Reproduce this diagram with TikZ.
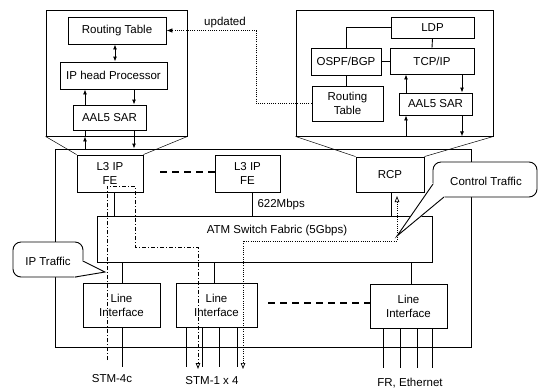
\documentclass[tikz,border=0pt]{standalone}
\usepackage{fontspec}
\setmainfont{Liberation Sans}
\usetikzlibrary{arrows.meta}
\begin{document}
\begin{tikzpicture}[x=1pt,y=-1pt,
  every node/.style={font=\fontsize{11.5}{14}\selectfont},
  blk/.style={draw, line width=0.9pt, inner sep=0pt, align=center, fill=white},
  wh/.style 2 args={minimum width=#1pt, minimum height=#2pt},
  ln/.style={line width=0.9pt},
  thinln/.style={line width=0.5pt},
  arr/.style={line width=0.9pt, -{Latex[length=5pt,width=4pt]}},
  darr/.style={line width=0.9pt, {Latex[length=5pt,width=4pt]}-{Latex[length=5pt,width=4pt]}},
  dotline/.style={line width=0.7pt, dash pattern=on 1pt off 1.2pt},
  dashdotline/.style={line width=0.8pt, dash pattern=on 4pt off 2pt on 1pt off 2pt},
  bigdash/.style={line width=2pt, dash pattern=on 7pt off 5pt},
  opentip/.style={-{Triangle[open,length=6pt,width=4.5pt]}},
  bubble/.style={draw, line width=0.9pt, fill=white, rounded corners=8pt}]
\useasboundingbox (0,0) rectangle (540,389);

% column helpers
\coordinate (c85) at (85,0);
\coordinate (c115) at (115,0);
\coordinate (c134) at (134,0);
\coordinate (c256) at (256,0);
\coordinate (c406) at (406,0);
\coordinate (c462) at (462,0);

% ---------- left zoom box ----------
\node[blk, wh={141}{126}, fill=none] (lzoom) at (116.5,73) {};
\node[blk, wh={98}{27}] (lrt) at (117,30.5) {Routing Table};
\node[blk, wh={107}{27}] (liph) at (113.5,75.5) {IP head Processor};
\node[blk, wh={73}{25}] (laal) at (109.5,117.5) {AAL5 SAR};
\draw[darr] (lrt.south -| c115) -- (liph.north -| c115);
\draw[arr] (laal.north -| c85) -- (liph.south -| c85);
\draw[arr] (liph.south -| c134) -- (laal.north -| c134);

% ---------- right zoom box ----------
\node[blk, wh={197}{126}, fill=none] (rzoom) at (394.5,73) {};
\node[blk, wh={83}{21}] (ldp) at (432.5,27.5) {LDP};
\node[blk, wh={70}{27}] (ospf) at (346,61.5) {OSPF/BGP};
\node[blk, wh={84}{26}] (tcp) at (432,61) {TCP/IP};
\node[blk, wh={71}{35}] (rrt) at (347.5,103.5) {Routing\\Table};
\node[blk, wh={73}{22}] (raal) at (435.5,104) {AAL5 SAR};
\draw[ln] (ospf.north) |- (ldp.west);
\draw[ln] (ospf.east) -- (ospf.east -| tcp.west);
\draw[ln] (ldp.south) -- (tcp.north);
\draw[ln] (ospf.south) -- (ospf.south |- rrt.north);
\draw[arr] (raal.north -| c406) -- (tcp.south -| c406);
\draw[arr] (tcp.south -| c462) -- (raal.north -| c462);
\draw[arr] (rzoom.south -| c406) -- (raal.south -| c406);
\draw[arr] (raal.south -| c462) -- (rzoom.south -| c462);

% updated link
\draw[dotline, -{Latex[length=6pt,width=4.5pt]}] (rrt.west) -| (c256 |- lrt.east) -- (lrt.east);
\node (upd) at (225,23) {updated};

% ---------- main router ----------
\node[draw, line width=0.9pt, inner sep=0pt, wh={416}{198}] (outer) at (263,248) {};
\node[blk, wh={66}{37}] (fe1) at (110,173.5) {L3 IP\\FE};
\node[blk, wh={65}{37}] (fe2) at (247.5,173.5) {L3 IP\\FE};
\node[blk, wh={68}{35}] (rcp) at (390,174.5) {RCP};
\node[blk, wh={335}{46}] (atm) at (264.5,239) {};
\node (atmtxt) at (277,231) {ATM Switch Fabric (5Gbps)};
\node[blk, wh={77}{44}] (li1) at (121.5,305) {Line\\Interface};
\node[blk, wh={81}{44}] (li2) at (216.5,305) {Line\\Interface};
\node[blk, wh={77}{44}] (li3) at (408.5,306) {Line\\Interface};

% links from left zoom box to FE
\draw[arr] (outer.north -| c85) -- (lzoom.south -| c85);
\draw[ln] (lzoom.south -| c85) -- (laal.south -| c85);
\draw[arr] (laal.south -| c134) -- (outer.north -| c134);

% zoom trapezoids
\draw[thinln] (lzoom.south west) -- (fe1.north west);
\draw[thinln] (lzoom.south east) -- (fe1.north east);
\draw[thinln] (rzoom.south west) -- (rcp.north west);
\draw[thinln] (rzoom.south east) -- (rcp.north east);

% FE / RCP to ATM
\draw[ln] (fe1.south -| 114,0) -- (atm.north -| 114,0);
\draw[ln] (fe2.south -| 252,0) -- (atm.north -| 252,0);
\draw[ln] (rcp.south -| 391,0) -- (atm.north -| 391,0);
\node[anchor=west] (bw) at (254,205) {622Mbps};

% ATM to line interfaces
\draw[ln] (atm.south -| 122,0) -- (li1.north -| 122,0);
\draw[ln] (atm.south -| 214,0) -- (li2.north -| 214,0);
\draw[ln] (atm.south -| 411,0) -- (li3.north -| 411,0);

% external lines
\draw[ln] (li1.south -| 122,0) -- ++(0,40);
\foreach \x in {186,202,219,237} \draw[ln] (li2.south -| \x,0) -- ++(0,40);
\foreach \x in {383,400,417,432} \draw[ln] (li3.south -| \x,0) -- ++(0,40);

% dashed "more" markers
\draw[bigdash] (fe1.east) ++(17,-1.5) coordinate (d1a) -- (fe2.west |- d1a);
\draw[bigdash] (268,303) coordinate (d2a) -- (li3.west |- d2a);

% traffic paths
\coordinate (ipin) at (107,360);
\coordinate (ipout) at (198,369);
\draw[dashdotline, opentip] (ipin) -- (107,186) -- (135,186) -- (135,247) -- (198,247) -- (ipout);
\coordinate (ctlout) at (243,369);
\coordinate (ctlin) at (397,196);
\draw[dotline, {Triangle[open,length=6pt,width=4.5pt]}-{Triangle[open,length=6pt,width=4.5pt]}] (ctlout) -- (243,241) -- (397,241) -- (ctlin);

% labels
\node (stm4) at (112,379) {STM-4c};
\node (stm1) at (212,381) {STM-1 x 4};
\node (freth) at (410,383) {FR, Ethernet};

% callouts
\draw[bubble] (13,242) rectangle (83,277);
\fill[white] (83.5,260) -- (105,272) -- (74,277.5) -- (78,268) -- cycle;
\draw[ln] (83,261) -- (105,272) -- (75,277);
\node (iptr) at (48,261) {IP Traffic};

\draw[bubble] (433,162) rectangle (537,197);
\fill[white] (432.5,183) -- (397,236) -- (445,197.5) -- (440,190) -- cycle;
\draw[ln] (433,184) -- (397,236) -- (444,197);
\node (cttr) at (486,181) {Control Traffic};
\end{tikzpicture}
\end{document}
